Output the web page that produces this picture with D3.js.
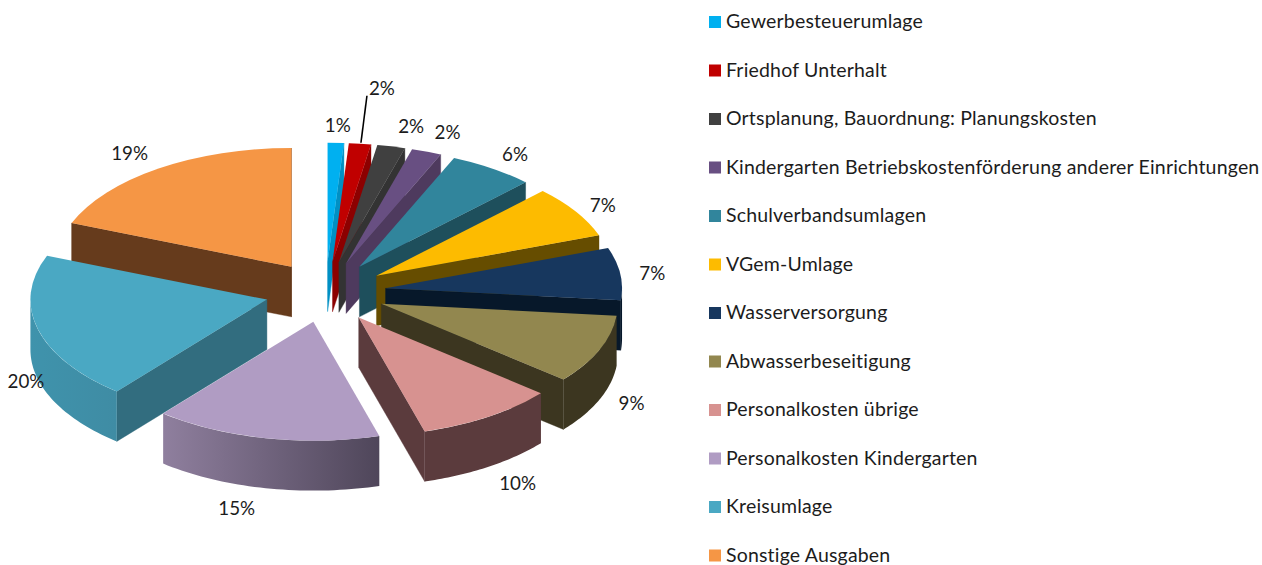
<!DOCTYPE html>
<html><head><meta charset="utf-8">
<script src="https://cdn.jsdelivr.net/npm/d3@7"></script>
<style>html,body{margin:0;padding:0;background:#fff;overflow:hidden}svg{display:block}text{font-family:Lato,"Noto Sans",sans-serif;fill:#1c1c1c}</style>
</head><body><svg id="c" width="1262" height="565"></svg>
<script>
const categories = ["Gewerbesteuerumlage","Friedhof Unterhalt","Ortsplanung, Bauordnung: Planungskosten","Kindergarten Betriebskostenförderung anderer Einrichtungen","Schulverbandsumlagen","VGem-Umlage","Wasserversorgung","Abwasserbeseitigung","Personalkosten übrige","Personalkosten Kindergarten","Kreisumlage","Sonstige Ausgaben"];
const values = [1.1,1.5,1.9,2.05,5.85,7.1,7.1,9.4,9.5,15.45,20.05,19.0];
const topColors = ["#00B0F0","#C00000","#404040","#684F82","#31859C","#FDBB00","#17375E","#92874F","#D79290","#B09CC3","#4AA8C3","#F59645"];
const faceColors = ["#0090C4","#8C0000","#333333","#4E3A5E","#1E4F5C","#664D00","#07182A","#3C3620","#5B3B3D","#5A4F66","#326D7F","#663B1C"];
const bandLeft = ["#0090C4","#8C0000","#333333","#4E3A5E","#1E4F5C","#664D00","#07182A","#3C3620","#5B3B3D","#8F7F9E","#3F93AC","#663B1C"];
const bandRight = ["#0090C4","#8C0000","#333333","#4E3A5E","#1E4F5C","#664D00","#07182A","#3C3620","#5B3B3D","#4F465A","#3F8CA4","#663B1C"];
// label nudges from the slice's outer rim
const labelDx = [2,22,20,21,23,27,32,32,29,-29,-12,-29];
const labelDy = [-17,-55,-20,-19,-14,-6,0,54,67,70,52,-15.5];

const W = { cx:325.5, cy:292, r:236.5, squash:0.5025, explode:60.5, depth:50 };
const svg = d3.select("#c");
const defs = svg.append("defs");
const pie = d3.pie().sort(null).value(d=>d)(values);
const mid = d => (d.startAngle+d.endAngle)/2;
const offset = d => [W.cx+Math.sin(mid(d))*W.explode, W.cy-Math.cos(mid(d))*W.explode*W.squash];
const rimPt = (d,a,dz=0) => { const o=offset(d); return [o[0]+Math.sin(a)*W.r, o[1]-Math.cos(a)*W.r*W.squash+dz]; };
const line = d3.line();
const arc = d3.arc().innerRadius(0).outerRadius(W.r);

const order = pie.map((d,i)=>({d,i})).sort((a,b)=>Math.cos(mid(b.d))-Math.cos(mid(a.d)));
order.forEach(({d,i})=>{
  const g = svg.append("g");
  const o = offset(d);
  const face = a => {
    const r = rimPt(d,a), r2=rimPt(d,a,W.depth);
    g.append("path").attr("d",line([o,r,r2,[o[0],o[1]+W.depth]])+"Z").attr("fill",faceColors[i]).attr("stroke",faceColors[i]).attr("stroke-width",0.4);
  };
  if (Math.sin(d.startAngle) < 0) face(d.startAngle);
  if (Math.sin(d.endAngle) > 0) face(d.endAngle);
  const a0 = Math.max(d.startAngle, Math.PI/2), a1 = Math.min(d.endAngle, 3*Math.PI/2);
  if (a1 > a0) {
    const angs = d3.range(0,41).map(k=>a0+(a1-a0)*k/40);
    const pts = angs.map(a=>rimPt(d,a)).concat(angs.slice().reverse().map(a=>rimPt(d,a,W.depth)));
    const xs = d3.extent(pts,p=>p[0]);
    const id = "band"+i;
    const lg = defs.append("linearGradient").attr("id",id).attr("gradientUnits","userSpaceOnUse")
      .attr("x1",xs[0]).attr("x2",xs[1]).attr("y1",0).attr("y2",0);
    lg.append("stop").attr("offset",0).attr("stop-color",bandLeft[i]);
    lg.append("stop").attr("offset",1).attr("stop-color",bandRight[i]);
    g.append("path").attr("d",line(pts)+"Z").attr("fill",`url(#${id})`);
  }
  g.append("path").attr("d",arc(d)).attr("fill",topColors[i])
    .attr("transform",`translate(${o[0]},${o[1]}) scale(1,${W.squash})`);
});

// leader line for the second slice
const redRim = rimPt(pie[1],mid(pie[1]));
svg.append("path").attr("d",line([[redRim[0]+1,redRim[1]-1],[redRim[0]+7,redRim[1]-48]])).attr("stroke","#000").attr("stroke-width",1.6).attr("fill","none");

pie.forEach((d,i)=>{
  const p = rimPt(d,mid(d));
  svg.append("text").attr("x",p[0]+labelDx[i]).attr("y",p[1]+labelDy[i]).attr("dy","0.35em")
    .attr("text-anchor","middle").style("font-size","18.8px").text(Math.round(values[i])+"%");
});

const ly = d3.scaleLinear().domain([0,11]).range([21.5,555]);
categories.forEach((c,i)=>{
  svg.append("rect").attr("x",709).attr("y",ly(i)-5.5).attr("width",12).attr("height",12).attr("fill",topColors[i]);
  svg.append("text").attr("x",726).attr("y",ly(i)).attr("dy","0.35em").style("font-size","19.5px").style("letter-spacing","0.18px").text(c);
});
</script></body></html>
